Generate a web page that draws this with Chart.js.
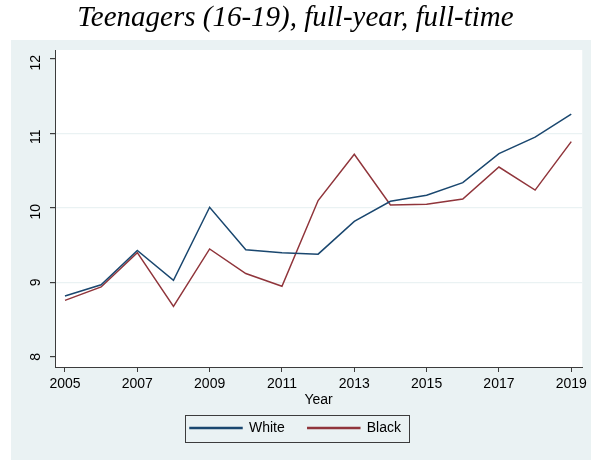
<!DOCTYPE html>
<html>
<head>
<meta charset="utf-8">
<script src="https://cdn.jsdelivr.net/npm/chart.js@4.4.1/dist/chart.umd.min.js"></script>
<style>
  html, body { margin: 0; padding: 0; background: #fff; }
  #wrap { width: 591px; height: 460px; }
</style>
</head>
<body>
<div id="wrap"><canvas id="chart" width="591" height="460"></canvas></div>
<script>
// years and series
const years = [2005, 2006, 2007, 2008, 2009, 2010, 2011, 2012, 2013, 2014, 2015, 2016, 2017, 2018, 2019];
const whiteVals = [8.82, 8.97, 9.43, 9.03, 10.01, 9.44, 9.40, 9.38, 9.82, 10.09, 10.17, 10.34, 10.73, 10.95, 11.26];
const blackVals = [8.76, 8.94, 9.40, 8.68, 9.45, 9.12, 8.95, 10.10, 10.72, 10.04, 10.05, 10.12, 10.55, 10.24, 10.89];
const xTicks = [2005, 2007, 2009, 2011, 2013, 2015, 2017, 2019];
const yTicks = [8, 9, 10, 11, 12];

const panelBg = "#eaf2f3";
const axisColor = "#3c3c3c";

// backgrounds: white page, grey graph region, white plot region
const backgrounds = {
    id: "backgrounds",
    beforeDraw(chart) {
        const ctx = chart.ctx;
        const a = chart.chartArea;
        ctx.save();
        ctx.fillStyle = "#fff";
        ctx.fillRect(0, 0, chart.width, chart.height);
        ctx.fillStyle = panelBg;
        ctx.fillRect(11, 40, chart.width - 11, chart.height - 40);
        ctx.fillStyle = "#fff";
        ctx.fillRect(a.left, a.top, a.right - a.left, a.bottom - a.top);
        ctx.restore();
    }
};

// box round the legend, like stata draws it
const legendBox = {
    id: "legendBox",
    afterDraw(chart) {
        const hb = chart.legend.legendHitBoxes;
        if (!hb || !hb.length) return;
        const ctx = chart.ctx;
        const first = hb[0], last = hb[hb.length - 1];
        const x0 = first.left - 5, x1 = last.left + last.width + 8;
        const y0 = first.top - 6, y1 = first.top + first.height + 7;
        ctx.save();
        ctx.fillStyle = "#fff";
        ctx.globalCompositeOperation = "destination-over";
        ctx.fillRect(x0, y0, x1 - x0, y1 - y0);
        ctx.globalCompositeOperation = "source-over";
        ctx.strokeStyle = axisColor;
        ctx.lineWidth = 1;
        ctx.strokeRect(Math.round(x0) + 0.5, Math.round(y0) + 0.5, Math.round(x1 - x0), Math.round(y1 - y0));
        ctx.restore();
    }
};

new Chart(document.getElementById("chart"), {
    type: "line",
    data: {
        datasets: [
            {
                label: "White",
                data: years.map((y, i) => ({ x: y, y: whiteVals[i] })),
                borderColor: "#1a476f",
                backgroundColor: "#1a476f",
                borderWidth: 1.5,
                pointRadius: 0,
                tension: 0
            },
            {
                label: "Black",
                data: years.map((y, i) => ({ x: y, y: blackVals[i] })),
                borderColor: "#90353b",
                backgroundColor: "#90353b",
                borderWidth: 1.5,
                pointRadius: 0,
                tension: 0
            }
        ]
    },
    options: {
        responsive: false,
        animation: false,
        devicePixelRatio: 1,
        layout: { padding: { left: 8, right: 8, top: 0, bottom: 15 } },
        plugins: {
            title: {
                display: true,
                text: "Teenagers (16-19), full-year, full-time",
                color: "#000",
                font: { family: "Liberation Serif", size: 29, style: "italic", weight: "normal" },
                padding: { top: 1, bottom: 14.2 }
            },
            legend: {
                position: "bottom",
                labels: {
                    color: "#000",
                    font: { family: "Liberation Sans", size: 14 },
                    boxWidth: 52,
                    boxHeight: 1,
                    padding: 23
                }
            },
            tooltip: { enabled: false }
        },
        scales: {
            x: {
                type: "linear",
                min: 2004.724,
                max: 2019.304,
                afterBuildTicks: scale => { scale.ticks = xTicks.map(v => ({ value: v })); },
                afterFit: scale => { scale.height = 31; },
                border: { color: axisColor, width: 1 },
                grid: { drawOnChartArea: false, tickLength: 5, tickColor: axisColor },
                ticks: {
                    color: "#000",
                    font: { family: "Liberation Sans", size: 14 },
                    padding: 4,
                    maxRotation: 0,
                    autoSkip: false,
                    callback: v => String(v)
                },
                title: {
                    display: true,
                    text: "Year",
                    color: "#000",
                    font: { family: "Liberation Sans", size: 14 },
                    padding: { top: 0, bottom: -11 }
                }
            },
            y: {
                min: 7.866,
                max: 12.12,
                afterBuildTicks: scale => { scale.ticks = yTicks.map(v => ({ value: v })); },
                afterFit: scale => { scale.width = 47; },
                border: { color: axisColor, width: 1 },
                grid: {
                    tickLength: 5,
                    tickColor: axisColor,
                    color: c => (c.tick && (c.tick.value === 8 || c.tick.value === 12)) ? "rgba(0,0,0,0)" : panelBg,
                    lineWidth: 1.2
                },
                ticks: {
                    color: "#000",
                    font: { family: "Liberation Sans", size: 14 },
                    minRotation: 90,
                    maxRotation: 90,
                    padding: 14,
                    labelOffset: -4,
                    autoSkip: false
                }
            }
        }
    },
    plugins: [backgrounds, legendBox]
});
</script>
</body>
</html>
